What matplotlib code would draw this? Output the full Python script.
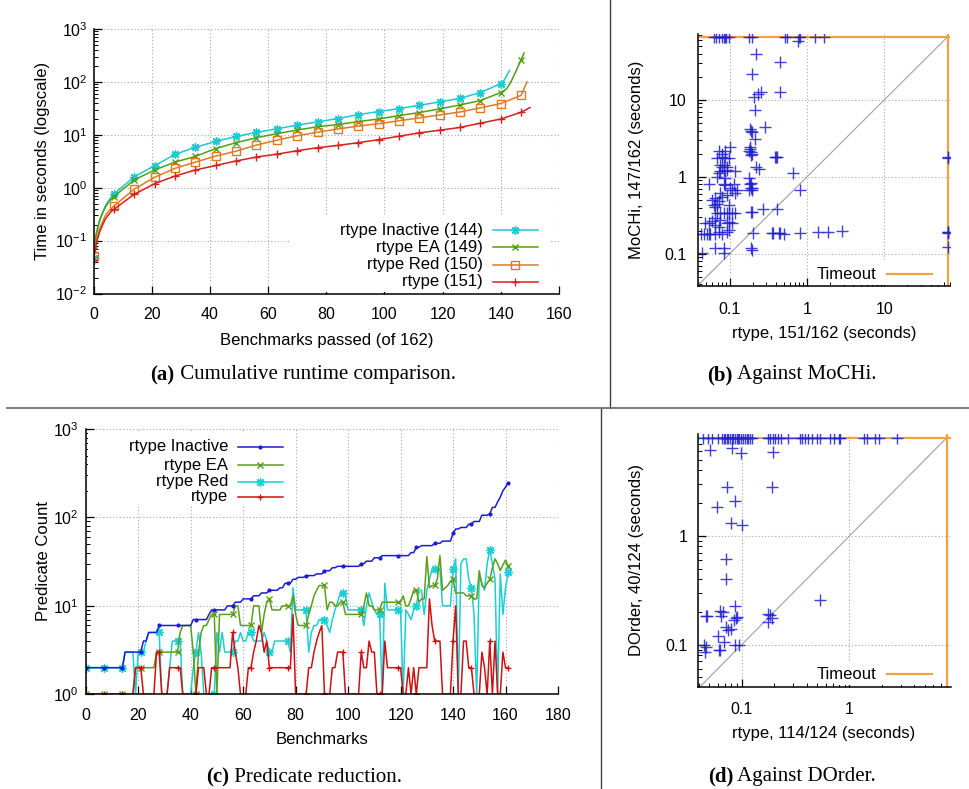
import numpy as np
import matplotlib
matplotlib.use("Agg")
import matplotlib.pyplot as plt
from matplotlib.lines import Line2D
from matplotlib.patches import Rectangle
from matplotlib.ticker import LogLocator, NullFormatter, FixedLocator

# ---------------- data ----------------
# (a) cumulative runtime, sampled benchmarks (x) and cumulative seconds (y)
inact_x = [0, 1, 2, 3, 4, 5, 6, 7, 14, 21, 28, 35, 42, 49, 56, 63, 70, 77, 84, 91, 98,
           105, 112, 119, 126, 133, 140, 141, 142, 143]
inact_y = [0.047, 0.13, 0.23, 0.33, 0.44, 0.55, 0.66, 0.76, 1.61, 2.6, 4.27, 5.8, 7.5, 9.3,
           11.1, 13.0, 15.2, 17.6, 20.3, 24.1, 27.5, 31.3, 36.2, 41.8, 49, 63, 93, 105, 130, 165]
ea_x = [0, 1, 2, 3, 4, 5, 6, 7, 14, 21, 28, 35, 42, 49, 56, 63, 70, 77, 84, 91, 98,
        105, 112, 119, 126, 133, 140, 141, 142, 143, 144, 145, 146, 147, 148]
ea_y = [0.065, 0.14, 0.23, 0.32, 0.42, 0.51, 0.6, 0.68, 1.4, 2.16, 3.05, 3.9, 5.5, 7.1,
        8.8, 10.5, 12.3, 14.2, 15.6, 17.8, 19.9, 23.1, 26.3, 30.9, 36.7, 44.4, 63, 68, 74,
        90, 115, 150, 200, 263, 350]
red_x = [0, 1, 2, 3, 4, 5, 6, 7, 14, 21, 28, 35, 42, 49, 56, 63, 70, 77, 84, 91, 98,
         105, 112, 119, 126, 133, 140, 147, 148, 149]
red_y = [0.051, 0.1, 0.16, 0.22, 0.29, 0.35, 0.4, 0.45, 0.94, 1.57, 2.32, 3.05, 3.96, 4.9,
         6.4, 7.9, 9.6, 11.2, 12.9, 14.6, 16.2, 18.4, 20.9, 23.7, 27, 32.4, 39, 55.7, 75, 100]
base_x = [0, 1, 2, 3, 4, 5, 6, 7, 14, 21, 28, 35, 42, 49, 56, 63, 70, 77, 84, 91, 98,
          105, 112, 119, 126, 133, 140, 147, 148, 149, 150]
base_y = [0.043, 0.09, 0.14, 0.19, 0.25, 0.3, 0.35, 0.39, 0.75, 1.19, 1.66, 2.16, 2.63, 3.2,
          3.8, 4.3, 5.0, 5.7, 6.3, 7.1, 8.1, 9.4, 10.9, 12.2, 13.8, 16.6, 19.9, 26.7, 28.5,
          30.5, 32.7]
a_labels = ["rtype Inactive (144)", "rtype EA (149)", "rtype Red (150)", "rtype (151)"]

# (c) predicate counts per benchmark (0..161)
pc_inactive = [
    2, 2, 2, 2, 2, 2, 2, 2, 2, 2, 2, 2, 2, 2, 2, 3, 3, 3, 3, 3,
    3, 3, 4, 4, 5, 5, 5, 5, 6, 6, 6, 6, 6, 6, 6, 6, 6, 6, 6, 6,
    6, 7, 7, 7, 7, 7, 7, 8, 9, 9, 9, 9, 9, 9, 10, 10, 10, 11, 11, 11,
    12, 12, 12, 12, 13, 13, 13, 14, 14, 14, 15, 15, 15, 15, 16, 16, 18, 18, 18, 20,
    20, 21, 21, 21, 22, 22, 22, 22, 23, 23, 23, 25, 25, 25, 27, 27, 28, 28, 28, 28,
    28, 28, 28, 28, 28, 30, 30, 32, 32, 32, 35, 35, 35, 37, 37, 37, 37, 37, 37, 37,
    37, 37, 37, 37, 40, 40, 46, 46, 48, 48, 48, 48, 48, 51, 51, 51, 54, 54, 54, 54,
    66, 74, 74, 77, 77, 77, 84, 84, 90, 90, 90, 106, 106, 106, 110, 130, 130, 150, 170, 200,
    220, 248]
pc_ea = [
    1, 1, 1, 1, 1, 1, 1, 1, 1, 1, 1, 1, 1, 1, 1, 1, 1, 1, 1, 2,
    2, 2, 2, 2, 2, 2, 2, 3, 3, 3, 3, 3, 3, 3, 3, 3, 5, 6, 6, 6,
    6, 3, 1, 3, 5, 6, 6, 7, 8, 8, 1, 8, 8, 8, 8, 8, 8, 10, 10, 6,
    6, 6, 6, 6, 10, 10, 10, 5, 8, 11, 12, 9, 9, 9, 9, 10, 10, 10, 10, 13,
    8, 6, 6, 6, 6, 8, 10, 13, 15, 17, 17, 17, 9, 11, 11, 10, 10, 11, 11, 8,
    8, 8, 8, 8, 8, 8, 10, 14, 10, 10, 9, 9, 9, 11, 11, 11, 11, 11, 11, 11,
    11, 13, 10, 10, 12, 15, 15, 11, 12, 12, 36, 16, 17, 17, 20, 37, 15, 16, 17, 19,
    20, 14, 14, 14, 14, 13, 13, 13, 12, 12, 25, 17, 16, 18, 20, 27, 34, 30, 25, 29,
    33, 28]
pc_red = [
    2, 2, 2, 2, 2, 2, 2, 2, 2, 2, 2, 2, 2, 2, 2, 3, 3, 3, 3, 1,
    3, 3, 3, 4, 5, 5, 5, 5, 5, 1, 1, 1, 2, 4, 4, 4, 4, 1, 1, 1,
    1, 2, 3, 5, 3, 1, 1, 1, 1, 1, 5, 3, 5, 3, 3, 3, 3, 4, 4, 5,
    4, 4, 5, 5, 4, 4, 4, 4, 5, 4, 3, 3, 4, 4, 4, 4, 4, 4, 3, 16,
    9, 9, 9, 9, 9, 3, 5, 6, 6, 7, 7, 7, 6, 5, 7, 9, 11, 14, 14, 13,
    9, 9, 9, 9, 9, 9, 6, 10, 14, 11, 9, 8, 8, 1, 18, 9, 9, 9, 9, 9,
    9, 1, 9, 8, 7, 9, 10, 15, 15, 8, 15, 20, 26, 26, 26, 26, 10, 10, 10, 10,
    26, 34, 1, 30, 34, 34, 20, 16, 8, 1, 23, 18, 15, 30, 43, 30, 20, 1, 23, 8,
    16, 24]
pc_rtype = [
    1, 1, 1, 1, 1, 1, 1, 1, 1, 1, 1, 1, 1, 1, 1, 1, 1, 1, 1, 2,
    2, 2, 1, 1, 1, 1, 1, 3, 3, 1, 1, 1, 2, 2, 2, 2, 2, 1, 1, 1,
    1, 1, 1, 2, 2, 2, 1, 1, 2, 2, 2, 2, 2, 2, 2, 2, 5, 3, 2, 1,
    1, 1, 2, 2, 3, 4, 6, 5, 3, 4, 2, 2, 2, 2, 2, 2, 2, 2, 2, 8,
    1, 1, 1, 1, 1, 2, 2, 3, 4, 5, 6, 1, 1, 1, 2, 2, 3, 3, 3, 1,
    1, 1, 1, 1, 1, 3, 2, 2, 4, 3, 3, 1, 1, 1, 4, 2, 2, 2, 2, 2,
    2, 1, 1, 2, 1, 2, 1, 2, 2, 2, 2, 12, 6, 4, 4, 4, 1, 1, 1, 1,
    4, 10, 1, 1, 4, 4, 2, 2, 1, 1, 1, 3, 2, 1, 4, 1, 4, 1, 1, 3,
    2, 2]
c_labels = ["rtype Inactive", "rtype EA", "rtype Red", "rtype"]

# (b) rtype vs MoCHi (seconds); 66 = timeout
T_MOCHI = 66
mochi_rt = [0.062, 0.066, 0.072, 0.08, 0.084, 0.088, 0.091, 0.097, 0.176, 0.195, 0.525, 0.55,
            0.78, 0.82, 1.28, 1.64,
            0.76, 0.221, 0.452, 0.195, 0.208, 0.254, 0.235, 0.452, 0.21, 0.283, 0.19, 0.185,
            0.195, 0.21, 0.19, 0.195, 0.185, 0.237, 0.40, 0.41, 0.66, 0.82, 0.19, 0.19, 0.195,
            0.27, 0.41, 0.19, 0.195, 0.2, 0.195, 0.19, 0.35, 0.36, 0.43, 0.45, 0.82, 1.41, 1.9,
            2.83, 0.176, 0.185, 0.195, 0.176, 0.185, 0.19, 0.18, 0.22, 0.39, 0.5,
            T_MOCHI, T_MOCHI, T_MOCHI, T_MOCHI, T_MOCHI, T_MOCHI,
            0.072, 0.0687, 0.088, 0.102, 0.0797, 0.088, 0.097, 0.0758, 0.0797, 0.0925, 0.0721,
            0.0758, 0.0837, 0.0925, 0.119, 0.0536, 0.0837, 0.088, 0.113, 0.0758, 0.107, 0.125,
            0.119, 0.0653, 0.0797, 0.0925, 0.0721, 0.0622, 0.0653, 0.0687, 0.097, 0.0687,
            0.0758, 0.0837, 0.0925, 0.097, 0.107, 0.119, 0.0653, 0.0758, 0.097, 0.0485, 0.0653,
            0.0721, 0.0925, 0.107, 0.0425, 0.046, 0.051, 0.0536, 0.0653, 0.0721, 0.0925, 0.0653,
            0.0837, 0.0837, 0.044, 0.0563, 0.0797, 0.097, 0.0592, 0.0687, 0.0837, 0.0797, 0.088,
            0.102, 0.0592, 0.0536]
mochi_mc = [T_MOCHI] * 16 + [
    59, 40, 31.5, 22, 10.9, 12.6, 12.0, 12.6, 7.5, 4.5, 4.0, 4.2,
    3.8, 3.1, 2.1, 2.0, 2.3, 1.28, 1.8, 1.8, 1.13, 0.67, 0.83, 0.71, 0.67,
    0.38, 0.38, 0.35, 0.35, 0.185, 0.112, 0.12, 0.185, 0.185, 0.185, 0.185, 0.185, 0.19, 0.19,
    0.2, 0.97, 0.82, 0.72, 2.2, 2.45, 1.93, 0.67, 1.36, 1.84, 0.182,
    1.76, 1.8, 0.185, 0.19, 0.195, 0.124,
    2.2, 1.76, 2.2, 2.45, 1.84, 1.76, 1.76, 1.43, 1.36, 1.36, 1.12,
    1.18, 1.18, 1.24, 1.18, 0.82, 0.82, 0.79, 0.82, 0.61, 0.67, 0.67,
    0.61, 0.53, 0.55, 0.58, 0.48, 0.43, 0.41, 0.45, 0.43, 0.335,
    0.335, 0.335, 0.335, 0.335, 0.335, 0.335, 0.29, 0.275, 0.26, 0.25, 0.236,
    0.225, 0.248, 0.248, 0.182, 0.182, 0.182, 0.182, 0.182, 0.19, 0.19, 0.12,
    0.12, 0.104, 0.104, 0.182, 0.182, 0.205, 0.5, 1.0, 1.43, 2.0, 0.97,
    0.72, 0.27, 0.25]

# (d) rtype vs DOrder (seconds); 8 = timeout
T_DORDER = 8.0
dorder_top = [0.044, 0.049, 0.0526, 0.0607, 0.065, 0.068, 0.07, 0.0726, 0.075, 0.078, 0.081,
              0.0836, 0.0867, 0.09, 0.093, 0.095, 0.098, 0.1035, 0.107, 0.111, 0.115, 0.119,
              0.124, 0.177, 0.183, 0.197, 0.204, 0.219, 0.23, 0.271, 0.348, 0.361, 0.388,
              0.416, 0.447, 0.498, 0.535, 0.662, 0.711, 0.791, 0.82, 1.35, 1.45, 1.73, 1.86,
              2.76]
dorder_rt = dorder_top + [
    0.051, 0.081, 0.098, 0.197, 0.0726, 0.19, 0.0867, 0.0593, 0.079, 0.1, 0.0715, 0.072,
    0.0867, 0.0466, 0.048, 0.063, 0.0675, 0.064, 0.084, 0.089, 0.091, 0.072, 0.074, 0.08,
    0.06, 0.068, 0.061, 0.063, 0.045, 0.047, 0.046, 0.087, 0.095, 0.177, 0.183, 0.177,
    0.19, 0.535]
dorder_do = [T_DORDER] * len(dorder_top) + [
    6.2, 6.5, 5.8, 5.9, 2.8, 2.8, 2.1, 1.85, 1.32, 1.25, 0.61, 0.405,
    0.227, 0.182, 0.185, 0.204, 0.2, 0.182, 0.17, 0.175, 0.18, 0.146, 0.136, 0.14,
    0.12, 0.106, 0.089, 0.09, 0.1, 0.095, 0.086, 0.1, 0.1, 0.193, 0.188, 0.162,
    0.174, 0.256]

log_ticks = [1e-2, 1e-1, 1e0, 1e1, 1e2, 1e3]
log_labels = [r"$10^{-2}$", r"$10^{-1}$", r"$10^{0}$", r"$10^{1}$", r"$10^{2}$", r"$10^{3}$"]

# ---------------- style ----------------
W, H = 970, 789
plt.rcParams["font.family"] = ["Liberation Sans", "DejaVu Sans"]
plt.rcParams["mathtext.fontset"] = "custom"
plt.rcParams["mathtext.rm"] = "Liberation Sans"
plt.rcParams["mathtext.default"] = "regular"

C_CYAN = "#1fc8d2"
C_GREEN = "#4f9f14"
C_ORANGE = "#e07a1f"
C_RED = "#d61f1f"
C_BLUE = "#1c1cd2"
C_TIMEOUT = "#f5a142"
ASTER = (8, 2, 0)

fig = plt.figure(figsize=(W / 100, H / 100), dpi=100)


def fx(px):
    return px / W


def fy(py):
    return 1 - py / H


def axes_at(l, t, r, b):
    return fig.add_axes([fx(l), fy(b), (r - l) / W, (b - t) / H])


def style(ax, xpad, ypad, box=False):
    for s in ["top", "right"]:
        ax.spines[s].set_visible(False)
    for s in ["left", "bottom"]:
        ax.spines[s].set_linewidth(1.1)
    ax.grid(True, which="major", color="#a8a8a8", linestyle=(0, (1, 2)), linewidth=0.8)
    ax.set_axisbelow(True)
    ax.tick_params(which="major", direction="in", length=6, width=0.9, labelsize=11.5)
    ax.tick_params(which="minor", direction="in", length=3, width=0.7)
    ax.tick_params(axis="x", pad=xpad)
    ax.tick_params(axis="y", pad=ypad)


def white_box(l, t, r, b):
    fig.add_artist(Rectangle((fx(l), fy(b)), (r - l) / W, (b - t) / H,
                             transform=fig.transFigure, facecolor="white",
                             edgecolor="none", zorder=1))


def legend_row(tx, py, x1, x2, label, color, marker=None, ms=5, mfc=None, lw=1.1):
    fig.text(fx(tx), fy(py), label, ha="right", va="center", fontsize=12, zorder=3)
    fig.add_artist(Line2D([fx(x1), fx(x2)], [fy(py), fy(py)], transform=fig.transFigure,
                          color=color, lw=lw, zorder=3))
    if marker is not None:
        fig.add_artist(Line2D([fx((x1 + x2) / 2)], [fy(py)], transform=fig.transFigure,
                              color=color, marker=marker, ms=ms, mew=1.0,
                              mfc=mfc if mfc else color, linestyle="none", zorder=3))


def caption(cx, py, tag, rest):
    kw = dict(family=["Liberation Serif", "DejaVu Serif"], fontsize=15, va="center")
    t1 = fig.text(0, fy(py), tag, fontweight="bold", **kw)
    t2 = fig.text(0, fy(py), rest, **kw)
    r = fig.canvas.get_renderer()
    w1 = t1.get_window_extent(r).width
    w2 = t2.get_window_extent(r).width
    x0 = cx - (w1 + w2) / 2
    t1.set_x(fx(x0))
    t2.set_x(fx(x0 + w1))


def every7(xs):
    return [x % 7 == 0 for x in xs]


# ---------------- (a) ----------------
ax = axes_at(93.5, 29, 559, 293.5)
style(ax, 10, 4.5)
ax.set_yscale("log")
ax.plot(inact_x, inact_y, color=C_CYAN, lw=1.1, marker=ASTER, ms=6, mew=1.0,
        markevery=every7(inact_x), zorder=2)
ax.plot(ea_x, ea_y, color=C_GREEN, lw=1.1, marker="x", ms=5, mew=1.0,
        markevery=every7(ea_x), zorder=2)
ax.plot(red_x, red_y, color=C_ORANGE, lw=1.1, marker="s", ms=6, mew=1.0, mfc="none",
        markevery=every7(red_x), zorder=2)
ax.plot(base_x, base_y, color=C_RED, lw=1.1, marker="+", ms=6, mew=1.0,
        markevery=every7(base_x), zorder=2)
ax.set_xlim(0, 160)
ax.set_ylim(1e-2, 1e3)
ax.set_xticks(range(0, 161, 20))
ax.yaxis.set_major_locator(FixedLocator(log_ticks))
ax.set_yticklabels(log_labels)
ax.yaxis.set_minor_locator(LogLocator(base=10, subs=np.arange(2, 10), numticks=20))
ax.yaxis.set_minor_formatter(NullFormatter())
fig.text(fx(43), fy(161), "Time in seconds (logscale)", rotation=90, ha="center",
         va="center", fontsize=12)
fig.text(fx(327), fy(340), "Benchmarks passed (of 162)", ha="center", va="center",
         fontsize=12)
white_box(290, 216, 550, 292)
a_colors = [C_CYAN, C_GREEN, C_ORANGE, C_RED]
a_markers = [(ASTER, 6, None), ("x", 5, None), ("s", 6, "none"), ("+", 6, None)]
for i, lab in enumerate(a_labels):
    m, ms, mfc = a_markers[i]
    legend_row(483, 230 + 17.3 * i, 493, 538, lab, a_colors[i], m, ms, mfc)
caption(303, 375, "(a)", " Cumulative runtime comparison.")

# ---------------- (c) ----------------
ax = axes_at(85.7, 429, 558, 694.3)
style(ax, 10, 5)
ax.set_yscale("log")
bx = np.arange(len(pc_inactive))
ax.plot(bx, pc_inactive, color=C_BLUE, lw=1.1, marker="o", ms=2, markevery=7, zorder=2.4)
ax.plot(bx, pc_ea, color="#5a9e1a", lw=1.1, marker="x", ms=5, mew=1.0, markevery=7, zorder=2.2)
ax.plot(bx, pc_red, color="#1ccfd4", lw=1.1, marker=ASTER, ms=6, mew=1.0, markevery=7,
        zorder=2.1)
ax.plot(bx, pc_rtype, color="#d01010", lw=1.1, marker="+", ms=4, mew=1.0, markevery=7,
        zorder=2.3)
ax.set_xlim(0, 180)
ax.set_ylim(1, 1e3)
ax.set_xticks(range(0, 181, 20))
ax.yaxis.set_major_locator(FixedLocator(log_ticks[2:]))
ax.set_yticklabels(log_labels[2:])
ax.yaxis.set_minor_locator(LogLocator(base=10, subs=np.arange(2, 10), numticks=20))
ax.yaxis.set_minor_formatter(NullFormatter())
fig.text(fx(43), fy(561), "Predicate Count", rotation=90, ha="center", va="center",
         fontsize=12)
fig.text(fx(322), fy(740), "Benchmarks", ha="center", va="center", fontsize=12)
white_box(88, 433, 290, 505)
c_colors = [C_BLUE, "#5a9e1a", "#1ccfd4", "#d01010"]
c_markers = [("o", 2, None), ("x", 5, None), (ASTER, 6, None), ("+", 4, None)]
c_rows = [447, 465.5, 481.5, 497]
for i, lab in enumerate(c_labels):
    m, ms, mfc = c_markers[i]
    legend_row(228, c_rows[i], 238, 283, lab, c_colors[i], m, ms, mfc)
caption(304, 777, "(c)", " Predicate reduction.")


# ---------------- (b) / (d) ----------------
def scatter_panel(l, t, r, b, xs, ys, timeout, xlim, ylim, ticks, tick_labels,
                  xlabel, ylabel, leg_y, cap_y, tag, rest):
    ax = axes_at(l, t, r, b)
    style(ax, 11, 8)
    ax.set_xscale("log")
    ax.set_yscale("log")
    ax.plot([xlim[0], timeout], [xlim[0], timeout], color="#a0a0a0", lw=0.8, zorder=1.5)
    ax.axhline(timeout, color=C_TIMEOUT, lw=1.6, zorder=1.8)
    ax.axvline(timeout, color=C_TIMEOUT, lw=1.6, zorder=1.8)
    ax.plot(xs, ys, linestyle="none", marker="+", ms=8, mew=1.0, color="#1f1fd0",
            alpha=0.85, zorder=2)
    ax.set_xlim(*xlim)
    ax.set_ylim(*ylim)
    for axis in (ax.xaxis, ax.yaxis):
        axis.set_major_locator(FixedLocator(ticks))
        axis.set_minor_locator(LogLocator(base=10, subs=np.arange(2, 10), numticks=20))
        axis.set_minor_formatter(NullFormatter())
    ax.set_xticklabels(tick_labels)
    ax.set_yticklabels(tick_labels)
    fig.text(fx(637), fy((t + b) / 2), ylabel, rotation=90, ha="center", va="center",
             fontsize=12)
    fig.text(fx(824), fy(b + 47), xlabel, ha="center", va="center", fontsize=12)
    white_box(835, leg_y - 12, 940, leg_y + 11)
    legend_row(876, leg_y, 887, 932, "Timeout", C_TIMEOUT, lw=1.6)
    caption(792, cap_y, tag, rest)


scatter_panel(698, 34, 950, 286.5, mochi_rt, mochi_mc, T_MOCHI, (0.039, 71), (0.0376, 72),
              [0.1, 1, 10], ["0.1", "1", "10"], "rtype, 151/162 (seconds)",
              "MoCHi, 147/162 (seconds)", 274.3, 375, "(b)", " Against MoCHi.")
scatter_panel(698.3, 434.3, 950.7, 686.7, dorder_rt, dorder_do, T_DORDER, (0.0395, 8.7),
              (0.041, 8.6), [0.1, 1], ["0.1", "1"], "rtype, 114/124 (seconds)",
              "DOrder, 40/124 (seconds)", 674.3, 776, "(d)", " Against DOrder.")

# ---------------- separators ----------------
fig.add_artist(Line2D([fx(610), fx(610)], [fy(0), fy(408)], transform=fig.transFigure,
                      color="#404040", lw=1.0))
fig.add_artist(Line2D([fx(601), fx(601)], [fy(408), fy(789)], transform=fig.transFigure,
                      color="#404040", lw=1.0))
fig.add_artist(Line2D([fx(7), fx(970)], [fy(408), fy(408)], transform=fig.transFigure,
                      color="#707070", lw=1.3))

fig.savefig("out.png", dpi=100)
